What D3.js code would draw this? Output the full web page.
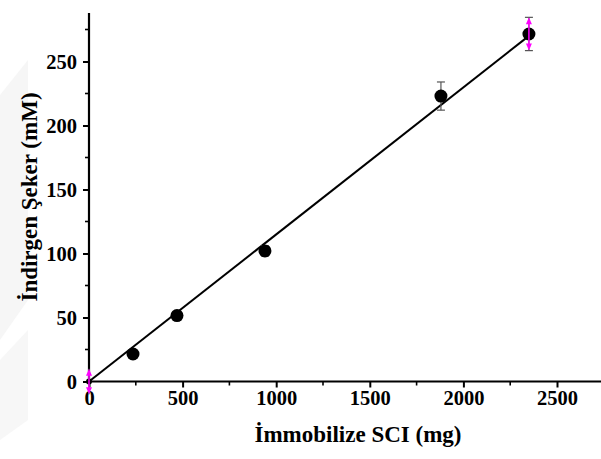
<!DOCTYPE html>
<html>
<head>
<meta charset="utf-8">
<script src="https://cdn.jsdelivr.net/npm/d3@7"></script>
<style>
  body { margin: 0; background: #fff; }
  svg { display: block; }
  .tick text { font-family: "Liberation Serif", "Times New Roman", serif; font-weight: bold; font-size: 20.5px; fill: #000; }
  .ttl { font-family: "Liberation Serif", "Times New Roman", serif; font-weight: bold; font-size: 23px; fill: #000; }
</style>
</head>
<body>
<div id="chart"></div>
<script>
var mass = [0, 235, 470, 940, 1880, 2350];
var sugar = [0, 21.5, 51.5, 102, 223, 271.5];
var err = [10, 1.5, 1.5, 4, 11, 13];
// error bars drawn with magenta arrows (Origin's clipped style)
var clipped = [true, false, false, false, false, true];
// fitted line end points
var fitX = [0, 2350];
var fitY = [0, 270];
var xTicks = [0, 500, 1000, 1500, 2000, 2500];
var yTicks = [0, 50, 100, 150, 200, 250];

var width = 601, height = 459;
var svg = d3.select('#chart').append('svg')
    .attr('width', width)
    .attr('height', height);

// faint watermark on the left edge
svg.append('path')
    .attr('d', 'M0,95 L28,60 L28,300 L0,340 Z')
    .attr('fill', '#f6f6f6');
svg.append('path')
    .attr('d', 'M0,360 L28,330 L28,420 L0,440 Z')
    .attr('fill', '#f7f7f7');

var x = d3.scaleLinear().domain([0, 2500]).range([89, 557]);
var y = d3.scaleLinear().domain([0, 250]).range([381.5, 61.5]);

// x axis, running to the right edge
var xAxis = svg.append('g').attr('transform', 'translate(0,' + y(0) + ')');
xAxis.append('line')
    .attr('x1', x(0) - 1).attr('x2', width)
    .attr('stroke', '#000').attr('stroke-width', 2.2);
xAxis.selectAll('.minor')
    .data(d3.range(250, 2750, 500))
    .enter().append('line')
    .attr('x1', function(d) { return x(d); })
    .attr('x2', function(d) { return x(d); })
    .attr('y2', 4)
    .attr('stroke', '#000').attr('stroke-width', 1.6);
var xg = xAxis.append('g')
    .call(d3.axisBottom(x).tickValues(xTicks).tickSize(6).tickPadding(3).tickFormat(d3.format('d')));
xg.select('.domain').remove();
xg.selectAll('.tick line').attr('stroke-width', 2);

// y axis
var yAxis = svg.append('g').attr('transform', 'translate(' + x(0) + ',0)');
yAxis.append('line')
    .attr('y1', 13).attr('y2', y(0) + 1)
    .attr('stroke', '#000').attr('stroke-width', 2.2);
yAxis.selectAll('.minor')
    .data(d3.range(25, 300, 50))
    .enter().append('line')
    .attr('y1', function(d) { return y(d); })
    .attr('y2', function(d) { return y(d); })
    .attr('x2', -4)
    .attr('stroke', '#000').attr('stroke-width', 1.6);
var yg = yAxis.append('g')
    .call(d3.axisLeft(y).tickValues(yTicks).tickSize(6).tickPadding(6).tickFormat(d3.format('d')));
yg.select('.domain').remove();
yg.selectAll('.tick line').attr('stroke-width', 2);
yg.selectAll('.tick text').attr('dy', '0.34em');

// fit line
svg.append('line')
    .attr('x1', x(fitX[0])).attr('y1', y(fitY[0]))
    .attr('x2', x(fitX[1])).attr('y2', y(fitY[1]))
    .attr('stroke', '#000').attr('stroke-width', 2);

var pts = mass.map(function(m, i) {
    return { x: m, y: sugar[i], e: err[i], clip: clipped[i] };
});

// grey error bars with caps
var eb = svg.append('g').selectAll('g').data(pts).enter().append('g')
    .attr('stroke', '#555').attr('stroke-width', 1.2);
eb.append('line')
    .attr('x1', function(d) { return x(d.x); })
    .attr('x2', function(d) { return x(d.x); })
    .attr('y1', function(d) { return y(d.y - d.e); })
    .attr('y2', function(d) { return y(d.y + d.e); });
eb.filter(function(d) { return !d.clip; }).selectAll('.cap')
    .data(function(d) { return [d.y - d.e, d.y + d.e].map(function(v) { return { x: d.x, v: v }; }); })
    .enter().append('line')
    .attr('x1', function(d) { return x(d.x) - 4; })
    .attr('x2', function(d) { return x(d.x) + 4; })
    .attr('y1', function(d) { return y(d.v); })
    .attr('y2', function(d) { return y(d.v); });

// points
svg.append('g').selectAll('circle').data(pts).enter().append('circle')
    .attr('cx', function(d) { return x(d.x); })
    .attr('cy', function(d) { return y(d.y); })
    .attr('r', function(d) { return d.x === 0 ? 3 : 6.5; })
    .attr('fill', '#000');

// magenta arrows on the clipped error bars
var mg = svg.append('g').selectAll('g').data(pts.filter(function(d) { return d.clip; }))
    .enter().append('g');
mg.filter(function(d) { return d.x > 0; }).selectAll('.cap')
    .data(function(d) { return [d.y - d.e, d.y + d.e].map(function(v) { return { x: d.x, v: v }; }); })
    .enter().append('line')
    .attr('x1', function(d) { return x(d.x) - 4; })
    .attr('x2', function(d) { return x(d.x) + 4; })
    .attr('y1', function(d) { return y(d.v); })
    .attr('y2', function(d) { return y(d.v); })
    .attr('stroke', '#555').attr('stroke-width', 1.2);
mg.append('line')
    .attr('x1', function(d) { return x(d.x); })
    .attr('x2', function(d) { return x(d.x); })
    .attr('y1', function(d) { return y(d.y - d.e) - 4; })
    .attr('y2', function(d) { return y(d.y + d.e) + 4; })
    .attr('stroke', '#ff00ff').attr('stroke-width', 1.5);
mg.selectAll('path')
    .data(function(d) { return [{ x: d.x, v: d.y + d.e, dir: -1 }, { x: d.x, v: d.y - d.e, dir: 1 }]; })
    .enter().append('path')
    .attr('d', function(d) {
        var cx = x(d.x), cy = y(d.v);
        return 'M' + cx + ',' + cy + ' L' + (cx - 3) + ',' + (cy - d.dir * 7) + ' L' + (cx + 3) + ',' + (cy - d.dir * 7) + ' Z';
    })
    .attr('fill', '#ff00ff');

// axis titles
svg.append('text')
    .attr('class', 'ttl')
    .attr('x', 358).attr('y', 442)
    .attr('text-anchor', 'middle')
    .text('İmmobilize SCI (mg)');
svg.append('text')
    .attr('class', 'ttl')
    .attr('transform', 'translate(37,' + 197 + ') rotate(-90)')
    .attr('text-anchor', 'middle')
    .text('İndirgen Şeker (mM)');
</script>
</body>
</html>
